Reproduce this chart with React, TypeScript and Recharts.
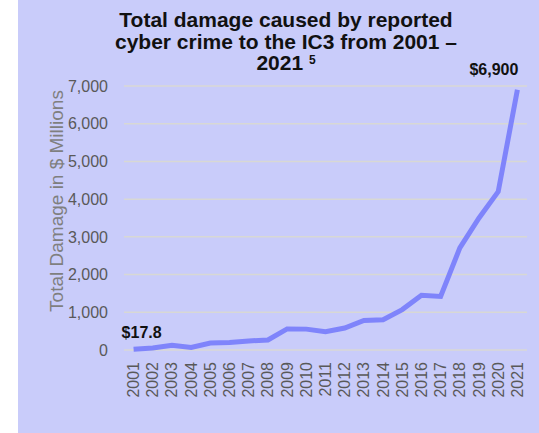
import { LineChart, Line, XAxis, YAxis, CartesianGrid, LabelList } from "recharts"

const years = ["2001","2002","2003","2004","2005","2006","2007","2008","2009","2010","2011","2012","2013","2014","2015","2016","2017","2018","2019","2020","2021"]
const damage = [17.8,54,125.6,68.1,183.1,198.4,239.1,264.6,559.7,553.5,485.3,581.4,781.8,800.5,1070.7,1450.7,1418.7,2706.4,3500,4200,6900]
const yTicks = [0,1000,2000,3000,4000,5000,6000,7000]
const pointLabels = ["$17.8","","","","","","","","","","","","","","","","","","","","$6,900"]

const data = years.map((y,i)=>({ year:y, value:damage[i], tag:pointLabels[i] }))

const FONT = "'Liberation Sans', Arial, sans-serif"

function YearTick(props:any){
const {x,y,payload} = props
return(
<text x={x} y={y+4} transform={`rotate(-90 ${x} ${y+4})`} textAnchor="end" dominantBaseline="central" fill="#595959" fontSize={16} fontFamily={FONT}>
{payload.value}
</text>
)
}

function PointTag(props:any){
const {x,y,value,index} = props
if(!value) return null
const first = index===0
return(
<text x={first ? x-12 : x+1} y={first ? y-17 : y-20} textAnchor={first ? "start" : "end"} dominantBaseline="central" fill="#111" fontSize={16} fontWeight="bold" fontFamily={FONT}>
{value}
</text>
)
}

export default function App(){

return(

<div style={{position:"fixed",left:0,top:0,width:539,height:433,background:"#fff",fontFamily:FONT}}>

<div style={{position:"absolute",left:18,top:0,width:521,height:433,background:"#c9ccfa"}}/>

<div style={{position:"absolute",left:0,top:0}}>

<LineChart width={539} height={433} data={data} margin={{top:86,right:12,bottom:0,left:0}}>

<CartesianGrid vertical={false} stroke="#d8d8d4" strokeWidth={1.5}/>

<XAxis dataKey="year" scale="band" axisLine={false} tickLine={false} interval={0} tick={<YearTick/>} height={83}/>

<YAxis width={124} domain={[0,7000]} ticks={yTicks} axisLine={false} tickLine={false} tickMargin={10}
tickFormatter={(v:number)=>v.toLocaleString("en-US")}
tick={{fill:"#595959",fontSize:16,fontFamily:FONT}}
label={{content:(p:any)=>{
const vb = p.viewBox
const cx = vb.x+56
const cy = vb.y+vb.height/2-17
return <text x={cx} y={cy} transform={`rotate(-90 ${cx} ${cy})`} textAnchor="middle" dominantBaseline="central" fill="#7f7f7f" fontSize={19} fontFamily={FONT}>Total Damage in $ Millions</text>
}}}/>

<Line type="linear" dataKey="value" stroke="#7f84fb" strokeWidth={5} dot={false} isAnimationActive={false}>
<LabelList dataKey="tag" content={<PointTag/>}/>
</Line>

</LineChart>

</div>

<div style={{position:"absolute",left:86,top:9,width:400,textAlign:"center",fontWeight:"bold",fontSize:21,lineHeight:"21.5px",color:"#111"}}>
Total damage caused by reported<br/>
cyber crime to the IC3 from 2001 –<br/>
2021 <sup style={{fontSize:12,verticalAlign:"top",position:"relative",top:-2}}>5</sup>
</div>

</div>

)

}
